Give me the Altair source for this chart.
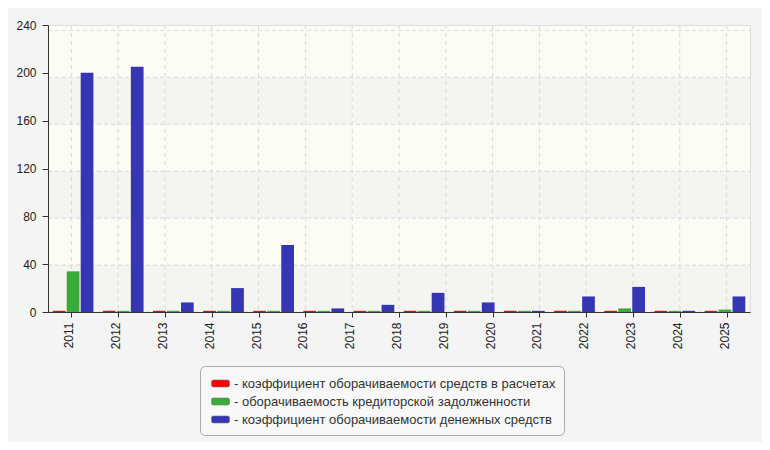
import altair as alt
import pandas as pd

# ---- data ----
year_labels = ["2011", "2012", "2013", "2014", "2015", "2016", "2017", "2018",
               "2019", "2020", "2021", "2022", "2023", "2024", "2025"]
group_keys = ["2011", "2012", "2013", "2014", "2015", "2016", "2017", "2018",
              "2019", "2020", "2021", "2022", "2023", "2024"]

series_names = [
    "коэффициент оборачиваемости средств в расчетах",
    "оборачиваемость кредиторской задолженности",
    "коэффициент оборачиваемости денежных средств",
]
red_values = [1, 1, 1, 1, 1, 1, 1, 1, 1, 1, 1, 1, 1, 1]
green_values = [34, 1, 1, 1, 1, 1, 1, 1, 1, 1, 1, 3, 1, 2]
blue_values = [200, 205, 8, 20, 56, 3, 6, 16, 8, 1, 13, 21, 1, 13]
series_colors = ["#ff0000", "#38ab38", "#3636b4"]

y_ticks = [0, 40, 80, 120, 160, 200, 240]
band_lo = [0, 80, 160]
band_hi = [40, 120, 200]

FONT = "Liberation Sans"

rows = []
for i, g in enumerate(group_keys):
    for s, vals in zip(series_names, [red_values, green_values, blue_values]):
        rows.append({"grp": g, "series": s, "value": vals[i]})
bar_df = pd.DataFrame(rows)
year_df = pd.DataFrame({"year": year_labels})
grid_df = pd.DataFrame({"v": y_ticks})
band_df = pd.DataFrame({"lo": band_lo, "hi": band_hi})

grid_scale = alt.Scale(domain=[0, 240], range=[287, 5.4], nice=False, zero=False)

bands = alt.Chart(band_df).mark_rect(color="#f4f4f1").encode(
    y=alt.Y("lo:Q", scale=grid_scale, axis=None),
    y2="hi:Q",
    x=alt.value(0),
    x2=alt.value("width"),
)

hgrid = alt.Chart(grid_df).mark_rule(color="#d8d8d8", strokeDash=[4, 3]).encode(
    y=alt.Y("v:Q", scale=grid_scale, axis=None),
    x=alt.value(0),
    x2=alt.value("width"),
)

vgrid = alt.Chart(year_df).mark_rule(color="#d8d8d8", strokeDash=[4, 4]).encode(
    x=alt.X(
        "year:O",
        sort=year_labels,
        scale=alt.Scale(type="point", padding=0.5),
        axis=alt.Axis(
            title=None, orient="bottom", labelAngle=-90, labelAlign="right",
            labelBaseline="alphabetic", labelOffset=1.5, tickSize=5, labelPadding=5,
            domainColor="#333333", tickColor="#333333", labelColor="#222222",
            labelFont=FONT, labelFontSize=12, grid=False, zindex=1,
        ),
    ),
    y=alt.value(0),
    y2=alt.value("height"),
)

symbol_path = ("M-0.8,-0.39 Q-1,-0.39 -1,-0.2 L-1,0.2 Q-1,0.39 -0.8,0.39 "
               "L0.8,0.39 Q1,0.39 1,0.2 L1,-0.2 Q1,-0.39 0.8,-0.39 Z")

bars = alt.Chart(bar_df).mark_bar().encode(
    x=alt.X("grp:N", sort=group_keys,
            scale=alt.Scale(paddingInner=0.188, paddingOuter=0.094), axis=None),
    xOffset=alt.XOffset("series:N", sort=series_names,
                        scale=alt.Scale(domain=series_names, paddingInner=0.09, paddingOuter=0)),
    y=alt.Y("value:Q", scale=alt.Scale(domain=[0, 240], nice=False),
            axis=alt.Axis(values=y_ticks, title=None, orient="left", grid=False,
                          tickSize=6, labelPadding=6, domainColor="#333333",
                          tickColor="#333333", labelColor="#222222",
                          labelFont=FONT, labelFontSize=12, zindex=1)),
    color=alt.Color(
        "series:N",
        scale=alt.Scale(domain=series_names, range=series_colors),
        legend=alt.Legend(
            title=None, orient="none", legendX=152, legendY=341,
            direction="vertical", symbolType=symbol_path, symbolSize=324,
            symbolStrokeColor="#777777", symbolStrokeWidth=0.6, symbolOffset=3,
            labelFont=FONT, labelFontSize=13, labelColor="#333333",
            labelLimit=600, labelExpr="'- ' + datum.label",
            padding=8, fillColor="#f8f8f8", strokeColor="#aaaaaa",
            cornerRadius=5, rowPadding=1, labelOffset=4,
        ),
    ),
)

chart = (
    alt.layer(bands, hgrid, vgrid, bars)
    .resolve_scale(x="independent", y="independent")
    .properties(
        width=702, height=287,
        autosize=alt.AutoSizeParams(type="none"),
        padding={"left": 40, "top": 17, "right": 12, "bottom": 130},
        background="#f4f4f4",
    )
    .configure_view(fill="#fcfcf5", stroke="#dddddd")
)

chart.save("out.html", embed_options={"renderer": "svg", "actions": False})
